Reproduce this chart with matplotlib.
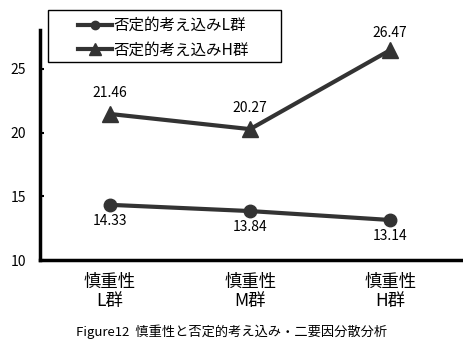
import matplotlib
matplotlib.use("Agg")
import matplotlib.pyplot as plt
from matplotlib.lines import Line2D
from matplotlib.patches import Rectangle

plt.rcParams['font.family'] = ['Noto Sans CJK JP', 'DejaVu Sans']

cats = ['慎重性\nL群', '慎重性\nM群', '慎重性\nH群']
low = [14.33, 13.84, 13.14]
high = [21.46, 20.27, 26.47]
yticks = [10, 15, 20, 25]
names = ['否定的考え込みL群', '否定的考え込みH群']
col = '#333333'

W, H = 463, 341
fig = plt.figure(figsize=(W/100, H/100), dpi=100)
ax = fig.add_axes([40/W, 81/H, 423/W, 230/H])

x = range(len(cats))
ax.plot(x, low, color=col, lw=3, marker='o', ms=9)
ax.plot(x, high, color=col, lw=3, marker='^', ms=11)

for i, v in enumerate(low):
    ax.annotate(f'{v:.2f}', (i, v), xytext=(0, -16), textcoords='offset pixels',
                ha='center', va='center', fontsize=10)
for i, v in enumerate(high):
    off = 17 if i == 2 else 21
    ax.annotate(f'{v:.2f}', (i, v), xytext=(0, off), textcoords='offset pixels',
                ha='center', va='center', fontsize=10)

ax.set_xlim(-0.5, 2.52)
ax.set_ylim(10, 28.05)
ax.set_yticks(yticks)
ax.set_xticks(list(x))
ax.set_xticklabels(cats, fontsize=12.5, linespacing=1.1)
ax.tick_params(axis='y', direction='in', length=3, width=1.5, pad=10, labelsize=10)
ax.tick_params(axis='x', length=0, pad=9)
for s in ['top', 'right']:
    ax.spines[s].set_visible(False)
ax.spines['left'].set_linewidth(2.5)
ax.spines['bottom'].set_linewidth(2.5)

# legend: handles smaller than the plot markers, box drawn separately
handles = [Line2D([], [], color=col, lw=3, marker='o', ms=6),
           Line2D([], [], color=col, lw=3, marker='^', ms=8)]
leg = fig.legend(handles, names, loc='upper left', bbox_to_anchor=(78/W, 1 - 17/H),
                 fontsize=11.2, frameon=False, handlelength=2.2, handletextpad=0.05,
                 borderpad=0, borderaxespad=0, labelspacing=0.5)
fig.add_artist(Rectangle((48/W, 1 - 62/H), 233/W, 52/H, transform=fig.transFigure,
                         fill=False, edgecolor='black', lw=1))

fig.text(0.5, 9/H, 'Figure12  慎重性と否定的考え込み・二要因分散分析', ha='center',
         va='center', fontsize=9.5)

fig.savefig('out.png', dpi=100)
